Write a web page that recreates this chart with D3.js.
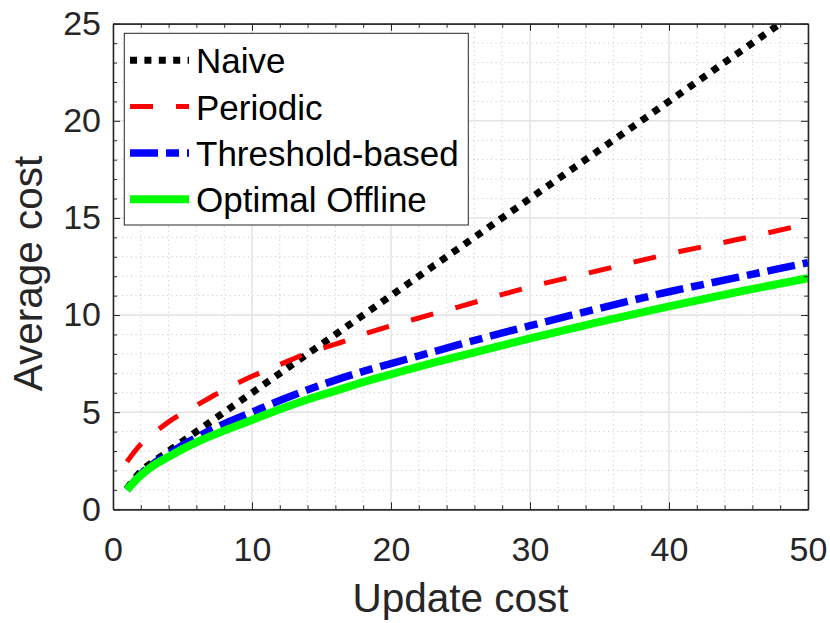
<!DOCTYPE html>
<html>
<head>
<meta charset="utf-8">
<script src="https://cdn.jsdelivr.net/npm/d3@7"></script>
<style>
  body { margin: 0; background: #fff; }
  svg text { font-family: "Liberation Sans", Arial, Helvetica, sans-serif; }
</style>
</head>
<body>
<div id="chart"></div>
<script>
// update cost values (x) shared by every series
const updateCost = [1, 2, 3, 4, 5, 6, 8, 10, 12, 14, 16, 18, 20, 22, 25, 30, 35, 40, 45, 50];

// average cost per strategy
const naive     = [1.05, 1.95, 2.5, 3.0, 3.5, 4.0, 5.0, 6.0, 7.0, 8.0, 9.0, 10.0, 11.0, 12.0, 13.5, 16.0, 18.5, 21.0, 23.5, 26.0];
const periodic  = [2.45, 3.35, 3.95, 4.5, 4.95, 5.35, 6.15, 6.85, 7.45, 8.05, 8.5, 9.0, 9.45, 9.85, 10.45, 11.45, 12.3, 13.15, 13.9, 14.7];
const threshold = [1.0, 1.8, 2.4, 2.85, 3.3, 3.7, 4.4, 5.0, 5.6, 6.15, 6.65, 7.1, 7.5, 7.9, 8.5, 9.45, 10.35, 11.2, 11.95, 12.7];
const optimal   = [1.0, 1.75, 2.3, 2.7, 3.1, 3.45, 4.05, 4.6, 5.15, 5.65, 6.1, 6.55, 6.95, 7.35, 7.9, 8.8, 9.65, 10.45, 11.2, 11.9];

const seriesNames = ["Naive", "Periodic", "Threshold-based", "Optimal Offline"];
const xTicks = [0, 10, 20, 30, 40, 50];
const yTicks = [0, 5, 10, 15, 20, 25];

const width = 830, height = 623;
const mLeft = 113, mRight = 808, mTop = 23.7, mBottom = 509.3;
const axisColor = "#262626";

const x = d3.scaleLinear().domain([0, 50]).range([mLeft, mRight]);
const y = d3.scaleLinear().domain([0, 25]).range([mBottom, mTop]);

const svg = d3.select("#chart").append("svg")
    .attr("width", width)
    .attr("height", height);

svg.append("defs").append("clipPath").attr("id", "plot-clip")
    .append("rect")
    .attr("x", mLeft).attr("y", mTop)
    .attr("width", mRight - mLeft).attr("height", mBottom - mTop);

// grid: minor dotted first, then major solid
const grid = svg.append("g");
const xMinor = d3.range(0, 51, 2).filter(v => v % 10 !== 0);
const yMinor = d3.range(0, 26, 1).filter(v => v % 5 !== 0);

grid.selectAll(".xminor").data(xMinor).enter().append("line")
    .attr("x1", d => x(d)).attr("x2", d => x(d))
    .attr("y1", mTop).attr("y2", mBottom)
    .attr("stroke", "#c4c4c4").attr("stroke-width", 1)
    .attr("stroke-dasharray", "1,3.5");
grid.selectAll(".yminor").data(yMinor).enter().append("line")
    .attr("x1", mLeft).attr("x2", mRight)
    .attr("y1", d => y(d)).attr("y2", d => y(d))
    .attr("stroke", "#c4c4c4").attr("stroke-width", 1)
    .attr("stroke-dasharray", "1,3.5");
grid.selectAll(".xmajor").data(xTicks).enter().append("line")
    .attr("x1", d => x(d)).attr("x2", d => x(d))
    .attr("y1", mTop).attr("y2", mBottom)
    .attr("stroke", "#e3e3e3").attr("stroke-width", 1.5);
grid.selectAll(".ymajor").data(yTicks).enter().append("line")
    .attr("x1", mLeft).attr("x2", mRight)
    .attr("y1", d => y(d)).attr("y2", d => y(d))
    .attr("stroke", "#e3e3e3").attr("stroke-width", 1.5);

// line styles
const styles = [
    { color: "#000000", width: 7, dash: "7,7.4" },
    { color: "#ff0000", width: 5, dash: "23,23" },
    { color: "#0000ff", width: 7.5, dash: "28,8,13,8" },
    { color: "#00ff00", width: 8, dash: null }
];
const allSeries = [naive, periodic, threshold, optimal];

const line = d3.line()
    .x(d => x(d[0]))
    .y(d => y(d[1]))
    .curve(d3.curveMonotoneX);

const plot = svg.append("g").attr("clip-path", "url(#plot-clip)");
allSeries.forEach((vals, i) => {
    plot.append("path")
        .datum(updateCost.map((u, j) => [u, vals[j]]))
        .attr("d", line)
        .attr("fill", "none")
        .attr("stroke", styles[i].color)
        .attr("stroke-width", styles[i].width)
        .attr("stroke-dasharray", styles[i].dash);
});

// axes (ticks inside, box on)
function styleAxis(g) {
    g.select(".domain").attr("stroke", axisColor).attr("stroke-width", 1.3);
    g.selectAll(".tick line").attr("stroke", axisColor).attr("stroke-width", 1);
    g.selectAll("text").attr("fill", axisColor).attr("font-size", 34)
        .attr("font-family", "'Liberation Sans', Arial, sans-serif");
}

svg.append("g")
    .attr("transform", `translate(0,${mBottom})`)
    .call(d3.axisBottom(x).tickValues(xTicks).tickSize(-7).tickSizeOuter(0).tickPadding(28))
    .call(styleAxis);
svg.append("g")
    .attr("transform", `translate(0,${mBottom})`)
    .call(d3.axisBottom(x).tickValues(xMinor).tickSize(-4).tickSizeOuter(0).tickFormat(""))
    .call(styleAxis);
svg.append("g")
    .attr("transform", `translate(0,${mTop})`)
    .call(d3.axisTop(x).tickValues(xTicks).tickSize(-7).tickSizeOuter(0).tickFormat(""))
    .call(styleAxis);
svg.append("g")
    .attr("transform", `translate(0,${mTop})`)
    .call(d3.axisTop(x).tickValues(xMinor).tickSize(-4).tickSizeOuter(0).tickFormat(""))
    .call(styleAxis);
svg.append("g")
    .attr("transform", `translate(${mLeft},0)`)
    .call(d3.axisLeft(y).tickValues(yTicks).tickSize(-7).tickSizeOuter(0).tickPadding(12))
    .call(styleAxis);
svg.append("g")
    .attr("transform", `translate(${mLeft},0)`)
    .call(d3.axisLeft(y).tickValues(yMinor).tickSize(-4).tickSizeOuter(0).tickFormat(""))
    .call(styleAxis);
svg.append("g")
    .attr("transform", `translate(${mRight},0)`)
    .call(d3.axisRight(y).tickValues(yTicks).tickSize(-7).tickSizeOuter(0).tickFormat(""))
    .call(styleAxis);
svg.append("g")
    .attr("transform", `translate(${mRight},0)`)
    .call(d3.axisRight(y).tickValues(yMinor).tickSize(-4).tickSizeOuter(0).tickFormat(""))
    .call(styleAxis);

// axis titles
svg.append("text")
    .attr("x", (mLeft + mRight) / 2)
    .attr("y", 611.5)
    .attr("text-anchor", "middle")
    .attr("font-size", 40.5)
    .attr("fill", axisColor)
    .text("Update cost");
svg.append("text")
    .attr("transform", `translate(41.5,${(mTop + mBottom) / 2 + 7}) rotate(-90)`)
    .attr("text-anchor", "middle")
    .attr("font-size", 40.5)
    .attr("fill", axisColor)
    .text("Average cost");

// legend
const legend = svg.append("g");
legend.append("rect")
    .attr("x", 124.3).attr("y", 33.3)
    .attr("width", 344).attr("height", 191.7)
    .attr("fill", "#fff")
    .attr("stroke", axisColor)
    .attr("stroke-width", 1);

const rows = legend.selectAll(".row").data(seriesNames).enter().append("g")
    .attr("transform", (d, i) => `translate(0,${73.3 + i * 46.3})`);
rows.append("line")
    .attr("x1", 130).attr("x2", 189)
    .attr("y1", -13).attr("y2", -13)
    .attr("stroke", (d, i) => styles[i].color)
    .attr("stroke-width", (d, i) => styles[i].width)
    .attr("stroke-dasharray", (d, i) => styles[i].dash);
rows.append("text")
    .attr("x", 196)
    .attr("y", 0)
    .attr("font-size", 35)
    .attr("fill", "#000")
    .text(d => d);
</script>
</body>
</html>
